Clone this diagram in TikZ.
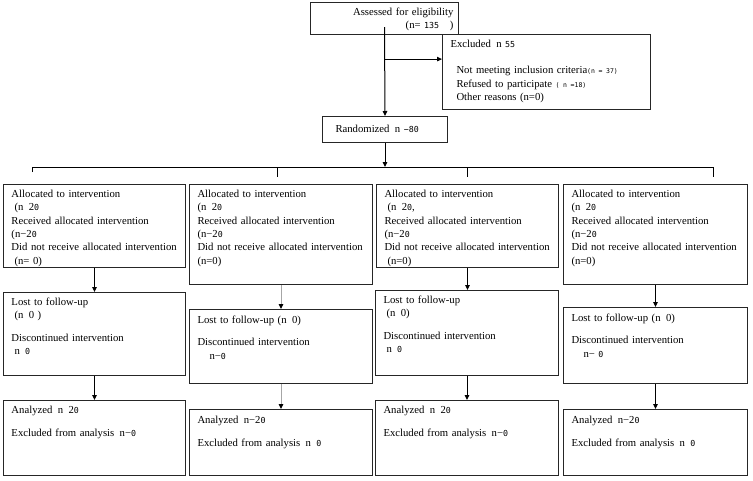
\documentclass[tikz,border=0pt]{standalone}
\usepackage{fontspec}
\setmainfont{Liberation Serif}
\newfontfamily\monofont{DejaVu Sans Mono}
\usetikzlibrary{arrows.meta, positioning, calc}
\newcommand{\nm}[1]{{\monofont\fontsize{8.3}{10}\selectfont #1}}
\newcommand{\sn}[1]{{\monofont\fontsize{6.5}{10}\selectfont #1}}

\begin{document}
\begin{tikzpicture}[x=1pt, y=-1pt,
    box/.style={rectangle, draw=black!85, line width=1pt, anchor=north west, align=left, inner xsep=8pt, inner ysep=4pt, text height=9pt, font=\fontsize{10.7}{13.3}\selectfont},
    arr/.style={-{Triangle[length=5pt, width=4.5pt]}, line width=1pt},
    garr/.style={draw=gray!70, line width=1pt, -{Triangle[length=5pt, width=4.5pt, black]}},
    bar/.style={line width=0.9pt}
]
\useasboundingbox (0,0) rectangle (753,480);
\node[box, align=right, inner xsep=5pt, text width=138pt, text depth=15pt] (assess) at (310,2) {Assessed for eligibility\\(n= \nm{135}\quad)};
\node[box, text width=192pt, text depth=58pt] (excl) at (442,34) {Excluded\enspace n \nm{55}\\[13pt]
  \hspace*{6pt}Not meeting inclusion criteria\sn{(n = 37)}\\
  \hspace*{6pt}Refused to participate \sn{( n =18)}\\
  \hspace*{6pt}Other reasons (n=0)};
\node[box, text width=109pt, text height=12pt, text depth=6pt] (rand) at (322,116) {\hspace*{5pt}Randomized\enspace n \nm{−80}};

\node[box, text width=166pt, text depth=66pt] (alloc1) at (3,184) {Allocated to intervention\\\hspace*{3pt}(n\enspace 2\nm{0}\\Received allocated intervention\\(n−2\nm{0}\\Did not receive allocated intervention\\\hspace*{3pt}(n= 0)};
\node[box, text width=167pt, text depth=83pt] (alloc2) at (189,184) {Allocated to intervention\\(n\enspace 2\nm{0}\\Received allocated intervention\\(n−2\nm{0}\\Did not receive allocated intervention\\(n=0)};
\node[box, text width=166pt, text depth=66pt] (alloc3) at (376,184) {Allocated to intervention\\\hspace*{3pt}(n\enspace 2\nm{0},\\Received allocated intervention\\(n−2\nm{0}\\Did not receive allocated intervention\\\hspace*{3pt}(n=0)};
\node[box, text width=168pt, text depth=83pt] (alloc4) at (563,184) {Allocated to intervention\\(n\enspace 2\nm{0}\\Received allocated intervention\\(n−2\nm{0}\\Did not receive allocated intervention\\(n=0)};

\node[box, text width=166pt, text depth=66pt] (lost1) at (3,292) {Lost to follow-up\\\hspace*{3pt}(n\enspace 0 )\\[9pt]Discontinued intervention\\\hspace*{3pt}n\enspace\nm{0}};
\node[box, text width=167pt, text height=10pt, text depth=56pt] (lost2) at (189,309) {Lost to follow-up (n\enspace 0)\\[9pt]Discontinued intervention\\\hspace*{12pt}n−\nm{0}};
\node[box, text width=167pt, text depth=68pt] (lost3) at (375,290) {Lost to follow-up\\\hspace*{3pt}(n\enspace 0)\\[9pt]Discontinued intervention\\\hspace*{3pt}n\enspace\nm{0}};
\node[box, text width=168pt, text height=10pt, text depth=58pt] (lost4) at (563,307) {Lost to follow-up (n\enspace 0)\\[9pt]Discontinued intervention\\\hspace*{12pt}n− \nm{0}};

\node[box, text width=166pt, text depth=58pt] (anal1) at (3,400) {Analyzed\enspace n\enspace 2\nm{0}\\[10pt]Excluded from analysis\enspace n−\nm{0}};
\node[box, text width=167pt, text height=10pt, text depth=48pt] (anal2) at (189,409) {Analyzed\enspace n−2\nm{0}\\[10pt]Excluded from analysis\enspace n\enspace\nm{0}};
\node[box, text width=167pt, text depth=58pt] (anal3) at (375,400) {Analyzed\enspace n\enspace 2\nm{0}\\[10pt]Excluded from analysis\enspace n−\nm{0}};
\node[box, text width=168pt, text height=10pt, text depth=48pt] (anal4) at (563,409) {Analyzed\enspace n−2\nm{0}\\[10pt]Excluded from analysis\enspace n\enspace\nm{0}};

\coordinate (exclin) at ($(excl.north west)!0.33!(excl.south west)$);
\coordinate (barL) at (32,167);
\coordinate (barR) at (713,167);
\coordinate (tick2) at (277,167);
\coordinate (tick3) at (467,167);
\draw[arr] ([yshift=8pt]assess.south) -- (rand.north);
\draw[arr] (assess.south |- exclin) -- (exclin);
\draw[arr] (rand.south) -- (rand.south |- barL);
\draw[bar] ($(barL)+(0,5)$) -- (barL) -- (barR) -- ($(barR)+(0,10)$);
\draw[bar] (tick2) -- ++(0,10);
\draw[bar] (tick3) -- ++(0,10);
\draw[arr] (alloc1.south) -- (alloc1.south |- lost1.north);
\draw[garr] (alloc2.south) -- (alloc2.south |- lost2.north);
\draw[arr] (alloc3.south) -- (alloc3.south |- lost3.north);
\draw[arr] (alloc4.south) -- (alloc4.south |- lost4.north);
\draw[arr] (lost1.south) -- (lost1.south |- anal1.north);
\draw[garr] (lost2.south) -- (lost2.south |- anal2.north);
\draw[arr] (lost3.south) -- (lost3.south |- anal3.north);
\draw[arr] (lost4.south) -- (lost4.south |- anal4.north);
\end{tikzpicture}
\end{document}
